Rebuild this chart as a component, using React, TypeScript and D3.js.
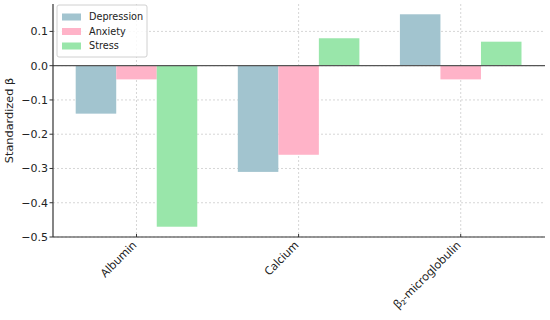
import * as d3 from 'd3';

const categories = ['Albumin', 'Calcium', 'β₂-microglobulin'];
const seriesNames = ['Depression', 'Anxiety', 'Stress'];
const depression = [-0.14, -0.31, 0.15];
const anxiety = [-0.04, -0.26, -0.04];
const stress = [-0.47, 0.08, 0.07];
const yTicks = [-0.5, -0.4, -0.3, -0.2, -0.1, 0.0, 0.1];
const colors = ['#a2c4cf', '#ffb3c8', '#99e6aa'];

const W = 550;
const H = 320;
const margin = { left: 53, right: 5, top: 4, bottom: 83 };
const font = 'DejaVu Sans, sans-serif';

const App = () => {
  const series = [depression, anxiety, stress];
  const x = d3
    .scaleLinear()
    .domain([-0.515, 2.52])
    .range([margin.left, W - margin.right]);
  const y = d3
    .scaleLinear()
    .domain([-0.5, 0.18])
    .range([H - margin.bottom, margin.top]);
  const barW = x(0.25) - x(0);
  const fmt = (v: number) => (v < 0 ? '\u2212' : '') + Math.abs(v).toFixed(1);

  return (
    <svg width={W} height={H} style={{ position: 'absolute', left: 0, top: 0 }} fontFamily={font}>
      <rect width={W} height={H} fill="white" />
      {/* grid */}
      {yTicks.map((t) => (
        <line
          key={'gy' + t}
          x1={margin.left}
          x2={W - margin.right}
          y1={y(t)}
          y2={y(t)}
          stroke="#cccccc"
          strokeWidth={0.8}
          strokeDasharray="2,2"
        />
      ))}
      {categories.map((c, i) => (
        <line
          key={'gx' + c}
          x1={x(i)}
          x2={x(i)}
          y1={margin.top}
          y2={H - margin.bottom}
          stroke="#cccccc"
          strokeWidth={0.8}
          strokeDasharray="2,2"
        />
      ))}
      {/* bars */}
      {series.map((vals, s) =>
        vals.map((v, i) => {
          const cx = x(i) + (s - 1) * barW;
          return (
            <rect
              key={s + '-' + i}
              x={cx - barW / 2}
              width={barW}
              y={Math.min(y(v), y(0))}
              height={Math.abs(y(v) - y(0))}
              fill={colors[s]}
            />
          );
        })
      )}
      {/* zero line */}
      <line x1={margin.left} x2={W - margin.right} y1={y(0)} y2={y(0)} stroke="#555" strokeWidth={1.2} />
      {/* spines */}
      <line x1={margin.left} x2={margin.left} y1={margin.top} y2={H - margin.bottom} stroke="#333" strokeWidth={1.2} />
      <line
        x1={margin.left}
        x2={W - margin.right}
        y1={H - margin.bottom}
        y2={H - margin.bottom}
        stroke="#333"
        strokeWidth={1.2}
      />
      {/* y ticks */}
      {yTicks.map((t) => (
        <g key={'yt' + t}>
          <line x1={margin.left - 3.5} x2={margin.left} y1={y(t)} y2={y(t)} stroke="#333" />
          <text x={margin.left - 5} y={y(t)} dy="0.35em" textAnchor="end" fontSize={11} fill="#222">
            {fmt(t)}
          </text>
        </g>
      ))}
      {/* x ticks */}
      {categories.map((c, i) => (
        <g key={'xt' + c}>
          <line
            x1={x(i)}
            x2={x(i)}
            y1={H - margin.bottom}
            y2={H - margin.bottom - 3}
            stroke="#333"
          />
          <text
            transform={`translate(${x(i) - 2},${H - margin.bottom + 6}) rotate(-45)`}
            textAnchor="end"
            dy="0.35em"
            fontSize={11.5}
            fontFamily="Noto Sans, sans-serif"
            fill="#222"
          >
            {c}
          </text>
        </g>
      ))}
      {/* y label */}
      <text
        transform={`translate(13,${(margin.top + H - margin.bottom) / 2}) rotate(-90)`}
        textAnchor="middle"
        fontSize={11.3}
        fill="#222"
      >
        Standardized β
      </text>
      {/* legend */}
      <g transform={`translate(${margin.left + 4},5)`}>
        <rect width={90} height={52} rx={2} fill="white" fillOpacity={0.85} stroke="#d0d0d0" />
        {seriesNames.map((n, i) => (
          <g key={n} transform={`translate(0,${12 + i * 14.5})`}>
            <rect x={5} y={-3.5} width={19} height={7} fill={colors[i]} />
            <text x={32} dy="0.35em" fontSize={9.7} fill="#222">
              {n}
            </text>
          </g>
        ))}
      </g>
    </svg>
  );
};

export default App;
